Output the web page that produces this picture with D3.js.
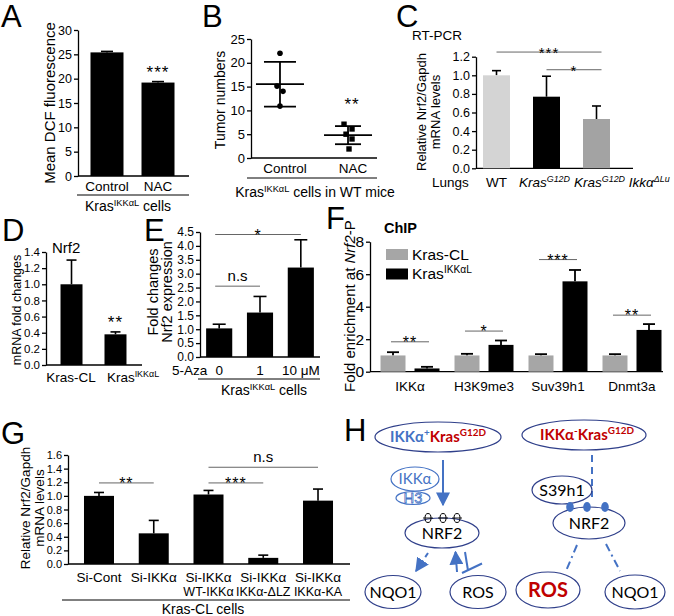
<!DOCTYPE html>
<html><head><meta charset="utf-8">
<script src="https://cdn.jsdelivr.net/npm/d3@7"></script>
<style>body{margin:0;background:#fff}svg{display:block}</style>
</head><body>
<svg id="c" width="674" height="616"></svg>
<script>
// ---------------- DATA ----------------
// Panel A
const catA = ["Control", "NAC"];
const valA = [25.4, 19.2];
const errA = [0.2, 0.2];
const ticksA = [0, 5, 10, 15, 20, 25, 30];
// Panel B
const catB = ["Control", "NAC"];
const ptsBControl = [22.0, 15.1, 14.0, 10.9];
const ptsBNAC = [7.1, 6.1, 5.0, 4.0, 1.9];
const meanB = [15.5, 4.8];
const sdB = [4.7, 1.9];
const ticksB = [0, 5, 10, 15, 20, 25];
// Panel C
const catC = ["WT", "KrasG12D", "KrasG12D Ikka"];
const valC = [1.0, 0.77, 0.53];
const errC = [0.05, 0.22, 0.14];
const ticksC = [0, 0.2, 0.4, 0.6, 0.8, 1.0, 1.2];
const sigC = [{ a: 0, b: 2, v: 1.25, t: "***" }, { a: 1, b: 2, v: 1.06, t: "*" }];
// Panel D
const catD = ["Kras-CL", "KrasIKKaL"];
const valD = [1.0, 0.38];
const errD = [0.3, 0.03];
const ticksD = [0, 0.2, 0.4, 0.6, 0.8, 1.0, 1.2, 1.4];
// Panel E
const catE = ["0", "1", "10 μM"];
const valE = [1.03, 1.6, 3.22];
const errE = [0.15, 0.58, 1.0];
const ticksE = [0, 0.5, 1.0, 1.5, 2.0, 2.5, 3.0, 3.5, 4.0, 4.5];
const sigE = [{ a: 0, b: 2, v: 4.41, t: "*" }, { a: 0, b: 1, v: 2.55, t: "n.s" }];
// Panel F
const groupsF = ["IKKα", "H3K9me3", "Suv39h1", "Dnmt3a"];
const seriesF = ["Kras-CL", "KrasIKKαL"];
const valFCL = [1.0, 1.0, 1.0, 1.0];
const errFCL = [0.2, 0.1, 0.08, 0.08];
const valFIL = [0.2, 1.65, 5.56, 2.57];
const errFIL = [0.1, 0.27, 0.7, 0.36];
const ticksF = [0, 2, 4, 6, 8];
const sigF = [{ v: 1.84, t: "**" }, { v: 2.5, t: "*" }, { v: 6.9, t: "***" }, { v: 3.48, t: "**" }];
// Panel G
const catG = ["Si-Cont", "Si-IKKα", "Si-IKKα WT-IKKα", "Si-IKKα IKKα-ΔLZ", "Si-IKKα IKKα-KA"];
const valG = [1.0, 0.45, 1.02, 0.09, 0.93];
const errG = [0.05, 0.19, 0.06, 0.04, 0.17];
const ticksG = [0, 0.2, 0.4, 0.6, 0.8, 1.0, 1.2, 1.4, 1.6];
const sigG = [{ a: 0, b: 1, v: 1.19, t: "**" }, { a: 2, b: 3, v: 1.19, t: "***" }, { a: 2, b: 4, v: 1.42, t: "n.s" }];

// ---------------- HELPERS ----------------
const FONT = "'Liberation Sans', Arial, Helvetica, sans-serif";
const HFONT = "Lato, 'Open Sans', sans-serif";
const svg = d3.select("#c");
svg.append("rect").attr("width", 674).attr("height", 616).attr("fill", "#fff");

function rich(x, y, parts, o) {
  const t = svg.append("text").attr("x", x).attr("y", y)
    .attr("font-family", o.font || FONT).attr("font-size", o.size)
    .attr("text-anchor", o.anchor || "middle").attr("fill", o.fill || "#000");
  if (o.rotate) t.attr("transform", `rotate(-90,${x},${y})`);
  if (o.weight) t.attr("font-weight", o.weight);
  if (o.italic) t.attr("font-style", "italic");
  let up = false;
  const sh = o.size * 0.38, ss = o.size * 0.66;
  parts.forEach(p => {
    const ts = t.append("tspan").text(p.t);
    if (p.sup) { ts.attr("font-size", ss); if (!up) { ts.attr("dy", -sh); up = true; } }
    else if (up) { ts.attr("dy", sh); up = false; }
    if (p.fill) ts.attr("fill", p.fill);
    if (p.italic) ts.attr("font-style", "italic");
    if (p.weight) ts.attr("font-weight", p.weight);
  });
  return t;
}
function txt(x, y, s, o) { return rich(x, y, [{ t: s }], o); }

function yAxis(scale, x, ticks, fmt, size) {
  const g = svg.append("g").attr("transform", `translate(${x},0)`)
    .call(d3.axisLeft(scale).tickValues(ticks).tickFormat(fmt).tickSize(4).tickSizeOuter(0).tickPadding(2));
  g.attr("font-family", FONT).attr("font-size", size);
  g.select(".domain").attr("stroke-width", 1.3);
  g.selectAll(".tick line").attr("stroke-width", 1.3);
  g.selectAll(".tick text").attr("fill", "#000");
  return g;
}
function hline(x0, x1, y, col, w) {
  svg.append("line").attr("x1", x0).attr("x2", x1).attr("y1", y).attr("y2", y)
    .attr("stroke", col || "#000").attr("stroke-width", w || 1.3);
}
function barsWithErr(xs, ys, cats, vals, errs, colors, capW) {
  const g = svg.append("g");
  cats.forEach((c, i) => {
    const x = xs(c), w = xs.bandwidth(), cx = x + w / 2;
    g.append("line").attr("x1", cx).attr("x2", cx).attr("y1", ys(vals[i])).attr("y2", ys(vals[i] + errs[i]))
      .attr("stroke", "#000").attr("stroke-width", 1.6);
    g.append("line").attr("x1", cx - capW / 2).attr("x2", cx + capW / 2)
      .attr("y1", ys(vals[i] + errs[i])).attr("y2", ys(vals[i] + errs[i]))
      .attr("stroke", "#000").attr("stroke-width", 1.6);
    g.append("rect").attr("x", x).attr("y", ys(vals[i])).attr("width", w)
      .attr("height", ys(0) - ys(vals[i])).attr("fill", colors[i % colors.length]);
  });
}
function sig(x0, x1, y, label, size) {
  hline(x0, x1, y, "#666", 1);
  if (label === "n.s") txt((x0 + x1) / 2, y - 5, label, { size: 15 });
  else txt((x0 + x1) / 2, y + 6, label, { size: size || 17 }).attr("letter-spacing", 1);
}
function letter(x, y, s) { txt(x, y, s, { size: 31, anchor: "start" }); }

// ---------------- PANEL A ----------------
letter(1, 27, "A");
const yA = d3.scaleLinear().domain([0, 30]).range([176, 30]);
const xA = d3.scaleBand().domain(catA).range([78, 187]).paddingInner(0.353).paddingOuter(0.245);
yAxis(yA, 78, ticksA, d3.format("d"), 12.5);
hline(78, 189, 176);
barsWithErr(xA, yA, catA, valA, errA, ["#000"], 12);
txt(xA("NAC") + xA.bandwidth() / 2, yA(valA[1] + errA[1]) - 4, "***", { size: 17 }).attr("letter-spacing", 1);
catA.forEach(c => txt(xA(c) + xA.bandwidth() / 2, 191, c, { size: 13.5 }));
hline(77, 189, 195, "#000", 1);
rich(128, 211, [{ t: "Kras" }, { t: "IKKαL", sup: true }, { t: " cells" }], { size: 14 });
txt(55, 103, "Mean DCF fluorescence", { size: 15, rotate: true });

// ---------------- PANEL B ----------------
letter(202, 27, "B");
const yB = d3.scaleLinear().domain([0, 25]).range([158, 39]);
const xB = d3.scalePoint().domain(catB).range([251, 377]).padding(0.426);
yAxis(yB, 251, ticksB, d3.format("d"), 13);
hline(251, 377, 158);
[ptsBControl, ptsBNAC].forEach((pts, gi) => {
  const cx = xB(catB[gi]);
  const m = meanB[gi], s = sdB[gi];
  const mw = 24, cw = gi === 0 ? 16 : 13;
  hline(cx - mw, cx + mw, yB(m), "#000", 1.8);
  svg.append("line").attr("x1", cx).attr("x2", cx).attr("y1", yB(m - s)).attr("y2", yB(m + s)).attr("stroke", "#000").attr("stroke-width", 1.8);
  hline(cx - cw, cx + cw, yB(m + s), "#000", 1.8);
  hline(cx - cw, cx + cw, yB(m - s), "#000", 1.8);
  pts.forEach((v, i) => {
    const off = gi === 0 ? [0, -3, 3, 0][i] : [-4, 4, -2, 4, 1][i];
    if (gi === 0) svg.append("circle").attr("cx", cx + off).attr("cy", yB(v)).attr("r", 2.8).attr("fill", "#000");
    else svg.append("rect").attr("x", cx + off - 2.7).attr("y", yB(v) - 2.7).attr("width", 5.4).attr("height", 5.4).attr("fill", "#000");
  });
});
txt(xB("NAC") + 4, 110, "**", { size: 17 }).attr("letter-spacing", 1);
catB.forEach(c => txt(xB(c) + 5, 173, c, { size: 13.5 }));
hline(247, 377, 178, "#000", 1);
rich(315, 197, [{ t: "Kras" }, { t: "IKKαL", sup: true }, { t: " cells in WT mice" }], { size: 14 });
txt(225, 100, "Tumor numbers", { size: 14, rotate: true });

// ---------------- PANEL C ----------------
letter(396, 27, "C");
const yC = d3.scaleLinear().domain([0, 1.2]).range([168.3, 56.7]);
const xC = d3.scaleBand().domain(catC).range([476, 617]).paddingInner(0.46).paddingOuter(0.14);
yAxis(yC, 476, ticksC, d3.format(".1f"), 12.5);
hline(476, 633, 168.3);
barsWithErr(xC, yC, catC, valC, errC, ["#d4d4d4", "#000", "#a3a3a3"], 9);
sigC.forEach(s => sig(xC(catC[s.a]) + xC.bandwidth() / 2, xC(catC[s.b]) + xC.bandwidth() / 2 + 5, yC(s.v), s.t, 15));
txt(412, 40, "RT-PCR", { size: 13.5, anchor: "start" });
txt(432, 187, "Lungs", { size: 13.5, anchor: "start" });
txt(xC("WT") + xC.bandwidth() / 2, 187, "WT", { size: 13.5 });
rich(xC(catC[1]) + xC.bandwidth() / 2 - 2, 187, [{ t: "Kras" }, { t: "G12D", sup: true }], { size: 13.5, italic: true });
rich(574, 187, [{ t: "Kras" }, { t: "G12D", sup: true }, { t: " Ikkα" }, { t: "ΔLu", sup: true }], { size: 13.5, italic: true, anchor: "start" });
txt(426, 112, "Relative Nrf2/Gapdh", { size: 13, rotate: true });
txt(440, 112, "mRNA levels", { size: 13, rotate: true });

// ---------------- PANEL D ----------------
letter(2, 241, "D");
const yD = d3.scaleLinear().domain([0, 1.4]).range([365, 252]);
const xD = d3.scaleBand().domain(catD).range([46, 141]).paddingInner(0.5).paddingOuter(0.33);
yAxis(yD, 46, ticksD, d3.format(".1f"), 11.5);
hline(46, 142, 365);
barsWithErr(xD, yD, catD, valD, errD, ["#000"], 10);
txt(xD(catD[1]) + xD.bandwidth() / 2, yD(valD[1] + errD[1]) - 4, "**", { size: 17 }).attr("letter-spacing", 1);
txt(52, 253, "Nrf2", { size: 15, anchor: "start" });
txt(71, 382, "Kras-CL", { size: 13.5 });
rich(133, 382, [{ t: "Kras" }, { t: "IKKαL", sup: true }], { size: 13.5 });
txt(21, 310, "mRNA fold changes", { size: 12.5, rotate: true });

// ---------------- PANEL E ----------------
letter(144, 241, "E");
const yE = d3.scaleLinear().domain([0, 4.5]).range([357, 232]);
const xE = d3.scaleBand().domain(catE).range([200, 320]).paddingInner(0.36).paddingOuter(0.15);
yAxis(yE, 200, ticksE, d3.format(".1f"), 12);
hline(200, 320, 357);
barsWithErr(xE, yE, catE, valE, errE, ["#000"], 13);
sigE.forEach(s => sig(xE(catE[s.a]) + xE.bandwidth() / 2 - 4, xE(catE[s.b]) + xE.bandwidth() / 2, yE(s.v), s.t, 16));
txt(172, 375, "5-Aza", { size: 13.5, anchor: "start" });
catE.forEach(c => txt(xE(c) + xE.bandwidth() / 2, 375, c, { size: 13.5 }));
hline(198, 320, 379, "#000", 1);
rich(264, 395, [{ t: "Kras" }, { t: "IKKαL", sup: true }, { t: " cells" }], { size: 14 });
txt(158, 292, "Fold changes", { size: 14.5, rotate: true });
txt(171.5, 292, "Nrf2 expression", { size: 14.5, rotate: true });

// ---------------- PANEL F ----------------
letter(326, 229, "F");
const yF = d3.scaleLinear().domain([0, 8]).range([371.7, 241.7]);
const xF = d3.scaleBand().domain(groupsF).range([370, 672]).paddingInner(0.2027).paddingOuter(0.142);
const xFi = d3.scaleBand().domain(seriesF).range([0, xF.bandwidth()]).paddingInner(0.265);
yAxis(yF, 370, ticksF, d3.format("d"), 15.5);
hline(370, 663, 371.7);
const colF = ["#a6a6a6", "#000"];
groupsF.forEach((gname, i) => {
  const gx = xF(gname);
  [[valFCL, errFCL], [valFIL, errFIL]].forEach((ser, si) => {
    const x = gx + xFi(seriesF[si]), w = xFi.bandwidth(), cx = x + w / 2;
    const v = ser[0][i], e = ser[1][i];
    svg.append("line").attr("x1", cx).attr("x2", cx).attr("y1", yF(v)).attr("y2", yF(v + e)).attr("stroke", "#000").attr("stroke-width", 1.8);
    hline(cx - 6, cx + 6, yF(v + e), "#000", 1.8);
    svg.append("rect").attr("x", x).attr("y", yF(v)).attr("width", w).attr("height", yF(0) - yF(v)).attr("fill", colF[si]);
  });
  const c0 = gx + xFi(seriesF[0]) + xFi.bandwidth() / 2, c1 = gx + xFi(seriesF[1]) + xFi.bandwidth() / 2;
  sig(c0 - 2, c1 + 2, yF(sigF[i].v), sigF[i].t, 16);
  txt(gx + xF.bandwidth() / 2, 391, gname, { size: 13.5 });
});
txt(384, 233, "ChIP", { size: 14.5, anchor: "start", weight: "bold" });
svg.append("rect").attr("x", 386).attr("y", 249).attr("width", 22).attr("height", 11).attr("fill", colF[0]);
svg.append("rect").attr("x", 386).attr("y", 268.5).attr("width", 22).attr("height", 11).attr("fill", colF[1]);
txt(412, 260, "Kras-CL", { size: 15.5, anchor: "start" });
rich(412, 279, [{ t: "Kras" }, { t: "IKKαL", sup: true }], { size: 15.5, anchor: "start" });
rich(355, 306, [{ t: "Fold enrichment at " }, { t: "Nrf2", italic: true }, { t: "-P" }], { size: 15, rotate: true });

// ---------------- PANEL G ----------------
letter(1, 444, "G");
const yG = d3.scaleLinear().domain([0, 1.6]).range([564, 455]);
const xG = d3.scaleBand().domain(catG).range([68, 349]).paddingInner(0.452).paddingOuter(0.292);
yAxis(yG, 68, ticksG, d3.format(".1f"), 11);
hline(68, 350, 564);
barsWithErr(xG, yG, catG, valG, errG, ["#000"], 10);
sigG.forEach(s => sig(xG(catG[s.a]) + xG.bandwidth() / 2, xG(catG[s.b]) + xG.bandwidth() / 2, yG(s.v), s.t, 16));
catG.forEach(c => {
  const parts = c.split(" ");
  const cx = xG(c) + xG.bandwidth() / 2;
  txt(cx, 582, parts[0], { size: 13.5 });
  if (parts[1]) txt(cx, 596, parts[1], { size: 12.5 });
});
hline(62, 350, 600, "#000", 1);
txt(203, 614, "Kras-CL cells", { size: 14 });
txt(30, 508, "Relative Nrf2/Gapdh", { size: 13.5, rotate: true });
txt(44, 508, "mRNA levels", { size: 13.5, rotate: true });

// ---------------- PANEL H (schematic) ----------------
letter(344, 441, "H");
const BLUE = "#4472c4", RED = "#c00000", NAVY = "#2f3f8a";
const nodesH = [
  { id: "top1", cx: 438, cy: 437, rx: 63, ry: 15 },
  { id: "top2", cx: 584, cy: 435, rx: 62, ry: 15 },
  { id: "ikk", cx: 415, cy: 479, rx: 24, ry: 12, label: "IKKα", fill: BLUE, size: 15 },
  { id: "h3", cx: 413, cy: 498, rx: 17, ry: 6.5 },
  { id: "nrf2L", cx: 442, cy: 533, rx: 37, ry: 15, label: "NRF2", size: 16 },
  { id: "nqo1L", cx: 393, cy: 592, rx: 28, ry: 16.5, label: "NQO1", size: 16 },
  { id: "rosL", cx: 478, cy: 592, rx: 28, ry: 16.5, label: "ROS", size: 16 },
  { id: "s39", cx: 562, cy: 490, rx: 30, ry: 14, label: "S39h1", size: 16 },
  { id: "nrf2R", cx: 589, cy: 523, rx: 36, ry: 16, label: "NRF2", size: 16 },
  { id: "rosR", cx: 548, cy: 590, rx: 32, ry: 18, label: "ROS", fill: RED, size: 20, weight: "bold" },
  { id: "nqo1R", cx: 635, cy: 592, rx: 30, ry: 17, label: "NQO1", size: 16 }
];
const defs = svg.append("defs");
defs.append("marker").attr("id", "ah").attr("viewBox", "0 0 10 10").attr("refX", 9).attr("refY", 5)
  .attr("markerWidth", 7).attr("markerHeight", 7).attr("orient", "auto-start-reverse")
  .append("path").attr("d", "M0,0L10,5L0,10z").attr("fill", BLUE);
function ln(x1, y1, x2, y2, dash, marker) {
  const l = svg.append("line").attr("x1", x1).attr("y1", y1).attr("x2", x2).attr("y2", y2)
    .attr("stroke", BLUE).attr("stroke-width", 2);
  if (dash) l.attr("stroke-dasharray", dash);
  if (marker) l.attr("marker-end", "url(#ah)");
  return l;
}
ln(443, 460, 443, 505, null, true);
ln(428, 553, 416, 571, "5,4", true);
ln(457, 572, 455.5, 552, null, true);
ln(465, 552, 468, 570.5);
ln(462, 573, 482, 563.5);
ln(592, 455, 592, 497, "7,5");
ln(577, 545, 566, 571, "8,4,2,4");
ln(606, 544, 620, 571, "8,4,2,4");
nodesH.forEach(n => {
  svg.append("ellipse").attr("cx", n.cx).attr("cy", n.cy).attr("rx", n.rx).attr("ry", n.ry)
    .attr("fill", "none").attr("stroke", n.id === "ikk" || n.id === "h3" ? BLUE : NAVY).attr("stroke-width", 1.2);
  if (n.label) txt(n.cx, n.cy + n.size * 0.36, n.label, { size: n.size, font: HFONT, fill: n.fill || "#000", weight: n.weight });
});
txt(413, 503, "H3", { size: 14, font: HFONT, fill: "none" }).attr("stroke", BLUE).attr("stroke-width", 0.8);
[428, 443, 457].forEach(x => {
  svg.append("ellipse").attr("cx", x).attr("cy", 518).attr("rx", 3).attr("ry", 4.5).attr("fill", "none").attr("stroke", "#000").attr("stroke-width", 1);
  hline(x - 5, x + 5, 518, "#000", 0.9);
});
[570, 587, 605].forEach(x => svg.append("ellipse").attr("cx", x).attr("cy", 507).attr("rx", 3.8).attr("ry", 5).attr("fill", BLUE));
rich(438, 442, [{ t: "IKKα", fill: BLUE }, { t: "+", sup: true, fill: BLUE }, { t: "Kras", fill: RED }, { t: "G12D", sup: true, fill: RED }], { size: 15, font: HFONT, weight: "bold" });
rich(587, 440, [{ t: "IKKα", fill: RED }, { t: "-", sup: true, fill: RED }, { t: "Kras", fill: RED }, { t: "G12D", sup: true, fill: RED }], { size: 15, font: HFONT, weight: "bold" });
</script>
</body></html>
